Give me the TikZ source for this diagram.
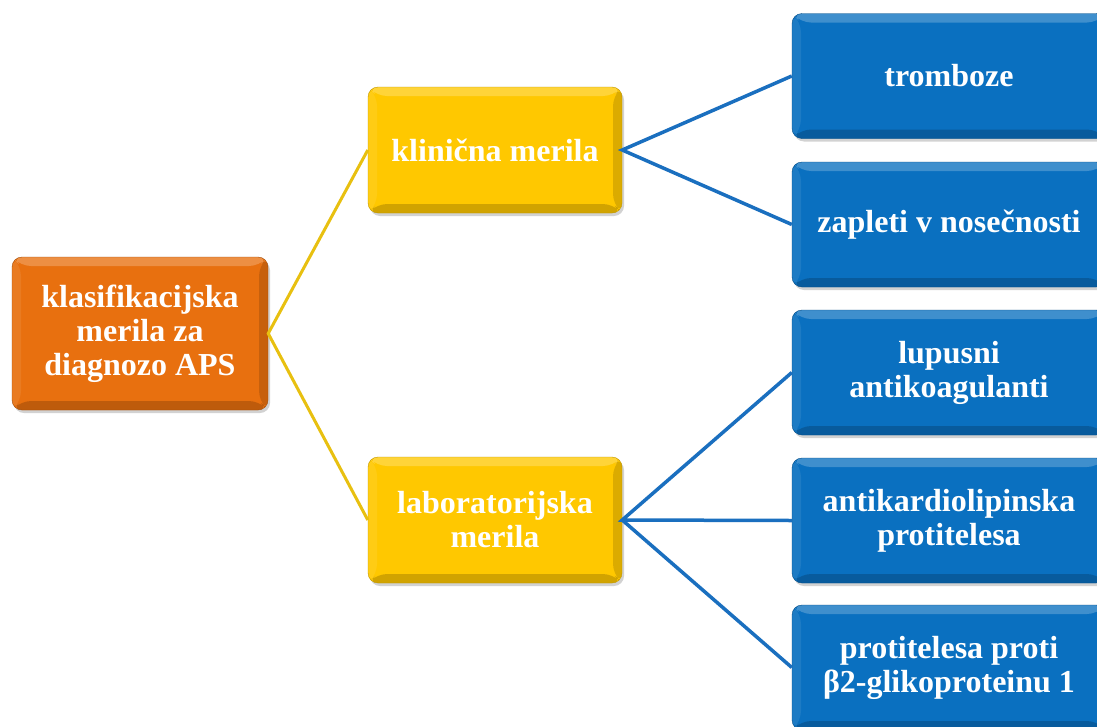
\documentclass[tikz,border=0pt]{standalone}
\usepackage{fontspec}
\setmainfont{Liberation Serif}
\usetikzlibrary{shadows}
\definecolor{orangebox}{HTML}{E8700F}
\definecolor{yellowbox}{HTML}{FFC800}
\definecolor{bluebox}{HTML}{0A70C0}
\definecolor{yline}{HTML}{E8C010}
\definecolor{bline}{HTML}{1A6FBF}
\tikzset{
  bevel/.style={
    path picture={
      \fill[white,opacity=0.22] (path picture bounding box.north west) -- (path picture bounding box.north east)
        -- ([xshift=-9pt,yshift=-9pt]path picture bounding box.north east) -- ([xshift=9pt,yshift=-9pt]path picture bounding box.north west) -- cycle;
      \fill[black,opacity=0.18] (path picture bounding box.south west) -- (path picture bounding box.south east)
        -- ([xshift=-9pt,yshift=9pt]path picture bounding box.south east) -- ([xshift=9pt,yshift=9pt]path picture bounding box.south west) -- cycle;
      \fill[black,opacity=0.14] (path picture bounding box.north east) -- (path picture bounding box.south east)
        -- ([xshift=-9pt,yshift=9pt]path picture bounding box.south east) -- ([xshift=-9pt,yshift=-9pt]path picture bounding box.north east) -- cycle;
      \fill[white,opacity=0.08] (path picture bounding box.north west) -- (path picture bounding box.south west)
        -- ([xshift=9pt,yshift=9pt]path picture bounding box.south west) -- ([xshift=9pt,yshift=-9pt]path picture bounding box.north west) -- cycle;
    }},
  box/.style={rounded corners=10pt, bevel, drop shadow={shadow xshift=2pt,shadow yshift=-3pt,opacity=0.35},
    text=white, align=center, font=\fontsize{32}{34}\selectfont\bfseries, inner sep=0pt},
  rootbox/.style={box, fill=orangebox, draw=orangebox!70!black, minimum width=256pt, minimum height=153pt},
  midbox/.style={box, fill=yellowbox, draw=yellowbox!75!black, minimum width=254pt, minimum height=126pt},
  leafbox/.style={box, fill=bluebox, draw=bluebox!70!black, minimum width=314pt, minimum height=125pt},
  yconn/.style={draw=yline, line width=3pt},
  bconn/.style={draw=bline, line width=3.5pt}
}
\begin{document}
\begin{tikzpicture}[x=1pt,y=-1pt]
\clip (0,0) rectangle (1097,726);
\fill[white] (0,0) rectangle (1097,726);
\node[rootbox] (root) at (140,333.5) {klasifikacijska\\merila za\\diagnozo APS};
\node[midbox] (klin) at (495,150) {klinična merila};
\node[midbox] (lab) at (495,520) {laboratorijska\\merila};
\node[leafbox] (b1) at (949,76) {tromboze};
\node[leafbox] (b2) at (949,224.5) {zapleti v nosečnosti};
\node[leafbox] (b3) at (949,372.5) {lupusni\\antikoagulanti};
\node[leafbox] (b4) at (949,520.5) {antikardiolipinska\\protitelesa};
\node[leafbox] (b5) at (949,667.5) {protitelesa proti\\β2-glikoproteinu 1};
\draw[yconn] (klin.west) -- (root.east) -- (lab.west);
\draw[bconn] (b1.west) -- (klin.east) -- (b2.west);
\draw[bconn] (b3.west) -- (lab.east) -- (b4.west);
\draw[bconn] (lab.east) -- (b5.west);
\end{tikzpicture}
\end{document}
